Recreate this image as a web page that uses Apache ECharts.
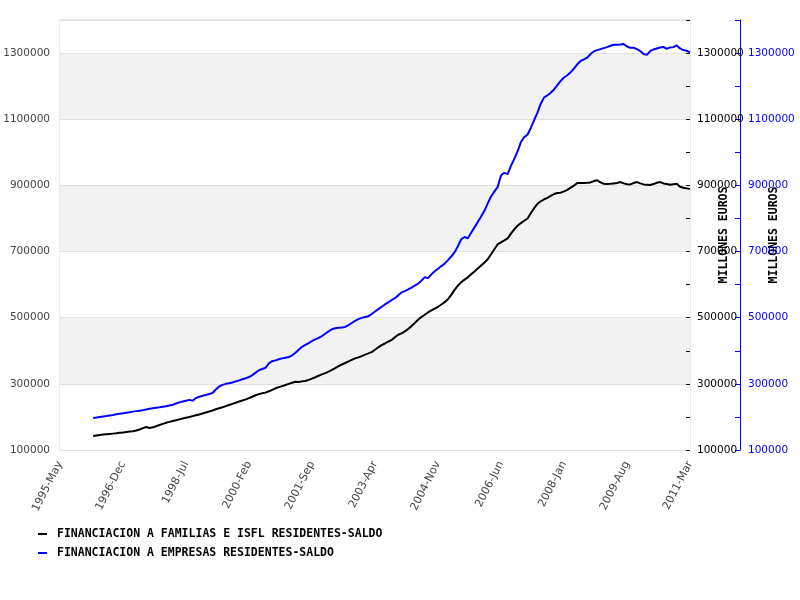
<!DOCTYPE html>
<html><head><meta charset="utf-8">
<script src="https://cdn.jsdelivr.net/npm/echarts@6/dist/echarts.min.js"></script>
<style>html,body{margin:0;padding:0;background:#fff}#c{width:800px;height:600px}</style>
</head><body><div id="c"></div>
<script>
// Category axis: monthly from 1995-May to 2011-Mar
const MONTHS = ['Jan','Feb','Mar','Apr','May','Jun','Jul','Aug','Sep','Oct','Nov','Dec'];
const AXIS_START = [1995, 4];   // 1995-May
const AXIS_END = [2011, 2];     // 2011-Mar
const DATA_START = '1996-Mar';
const categories = [];
for (let y = AXIS_START[0], m = AXIS_START[1]; y < AXIS_END[0] || (y === AXIS_END[0] && m <= AXIS_END[1]); ) {
  categories.push(y + '-' + MONTHS[m]);
  m++; if (m > 11) { m = 0; y++; }
}
const seriesNames = ['FINANCIACION A FAMILIAS E ISFL RESIDENTES-SALDO', 'FINANCIACION A EMPRESAS RESIDENTES-SALDO'];
const familias = [
142300,144000,145500,146500,147500,148500,149500,150500,152000,153000,
154500,156000,157000,159000,162000,166000,169500,166500,168500,172000,
175500,179000,182500,185000,187500,190000,192500,195000,197500,200000,
202500,205000,207500,210500,213500,216500,219500,223000,226000,229000,
232500,236000,239500,243000,246500,249500,253000,257000,261000,265500,
269000,271500,273500,277500,282000,286500,290000,293000,296500,300000,
303500,306500,305500,307500,308500,312000,316000,320000,324500,328500,
332500,337000,342000,347500,353500,358500,363000,368000,372500,377000,
380000,384000,388500,392000,396000,403000,410500,417000,422000,427500,
432500,441000,448500,452500,458500,466000,474500,484000,494000,502000,
509000,516000,522000,527500,533000,540000,547000,556000,569000,584000,
597000,607000,615000,622000,631000,640000,649000,658000,666500,676500,
692000,707000,722000,728000,733500,740000,754000,767000,778000,786000,
793000,800000,816000,831000,844500,852000,858000,862500,868000,874000,
877000,878000,882000,886500,893000,899000,907000,907000,907500,908000,
909000,913000,915500,909000,905000,904500,905000,906000,907000,910000,
906000,903500,903000,907000,910000,906000,903000,902000,901000,904000,
908000,910000,906000,904000,902000,903500,905000,896000,893000,891000,
889000];
const empresas = [
196700,198000,199500,201000,202500,204500,206000,208000,209500,211000,
212500,214000,216000,217500,219000,220500,222500,224500,226000,227500,
229000,231000,232500,234500,237000,240500,244000,246500,249000,251500,
249000,257000,261000,264000,266500,269500,272500,283000,292000,297000,
300000,302000,304000,307500,310500,314000,317000,320500,326000,334000,
341000,345000,348500,362000,368500,371000,374500,377000,379000,381000,
386000,394000,403000,412000,417500,423000,429500,434500,439000,444500,
451500,458500,465000,468000,469500,470500,472000,477500,484000,490500,
495500,499500,502000,504500,511000,518500,526000,533000,540000,546500,
553000,559000,567500,576500,580500,585500,591000,597000,603000,612000,
622500,619500,631000,640500,648000,656000,663500,674000,685000,697500,
716000,737000,744000,740000,757000,773000,789000,806000,823000,845500,
866500,881000,895500,930000,938000,934000,959000,980000,1003000,1031000,
1046000,1053000,1074000,1097000,1120000,1147000,1166000,1172000,1180000,1190000,
1203000,1216000,1226000,1233000,1242000,1253000,1266000,1276000,1281000,1286000,
1297000,1305000,1309000,1312000,1315000,1318000,1322000,1325000,1325500,1326000,
1327500,1320000,1316000,1316000,1312000,1306000,1297000,1294500,1306000,1311000,
1314000,1317000,1318500,1312500,1317000,1318000,1323000,1314000,1309000,1307000,
1302000];
const Y_MIN = 100000, Y_MAX = 1400000;
const axisName = 'MILLONES EUROS';

const off = categories.indexOf(DATA_START);
const pad = arr => categories.map((c, i) => (i < off ? '-' : arr[i - off]));
const labelFilter = v => ((v - Y_MIN) % 200000 === 0 && v < Y_MAX) ? String(v) : '';
const mono = '"DejaVu Sans Mono", monospace';

const chart = echarts.init(document.getElementById('c'));
chart.setOption({
  animation: false,
  grid: { left: 60, right: 110, top: 20, bottom: 150, containLabel: false, outerBoundsMode: 'none',
          show: true, borderColor: '#d8d8d8', borderWidth: 1, backgroundColor: '#fff' },
  legend: {
    orient: 'vertical', left: 38, top: 528, padding: 0, itemGap: 7, itemWidth: 9, itemHeight: 2,
    icon: 'rect',
    textStyle: { fontFamily: mono, fontWeight: 'bold', fontSize: 11.5, color: '#000', padding: [0, 0, 0, 5] },
    data: seriesNames
  },
  xAxis: {
    type: 'category', data: categories, boundaryGap: false,
    axisLine: { show: false }, axisTick: { show: false }, splitLine: { show: false },
    axisLabel: { interval: 18, rotate: 63, margin: 12, fontSize: 11, color: '#444', fontFamily: 'DejaVu Sans' }
  },
  yAxis: [
    {
      type: 'value', position: 'left', min: Y_MIN, max: Y_MAX, interval: 200000,
      axisLine: { show: false }, axisTick: { show: false },
      axisLabel: { fontSize: 10.5, color: '#444', fontFamily: 'DejaVu Sans', margin: 10, showMaxLabel: false, formatter: v => String(v) },
      splitLine: { show: true, lineStyle: { color: '#e0e0e0', width: 1 } },
      splitArea: { show: true, areaStyle: { color: ['#ffffff', '#f2f2f2'] } }
    },
    {
      type: 'value', position: 'right', offset: 0, min: Y_MIN, max: Y_MAX, interval: 100000,
      name: axisName, nameLocation: 'middle', nameRotate: 90, nameGap: 28, nameMoveOverlap: false,
      nameTextStyle: { fontFamily: mono, fontWeight: 'bold', fontSize: 11.5, color: '#000' },
      axisLine: { show: false },
      axisTick: { show: true, inside: true, length: 4, lineStyle: { color: '#000' } },
      axisLabel: { fontSize: 10.5, color: '#000', fontFamily: 'DejaVu Sans', margin: 7, formatter: labelFilter },
      splitLine: { show: false }
    },
    {
      type: 'value', position: 'right', offset: 50, min: Y_MIN, max: Y_MAX, interval: 100000,
      name: axisName, nameLocation: 'middle', nameRotate: 90, nameGap: 28, nameMoveOverlap: false,
      nameTextStyle: { fontFamily: mono, fontWeight: 'bold', fontSize: 11.5, color: '#000' },
      axisLine: { show: true, lineStyle: { color: '#0000ff', width: 1 } },
      axisTick: { show: true, inside: true, length: 5, lineStyle: { color: '#0000ff' } },
      axisLabel: { fontSize: 10.5, color: '#0000ff', fontFamily: 'DejaVu Sans', margin: 8, formatter: labelFilter },
      splitLine: { show: false }
    }
  ],
  series: [
    { name: seriesNames[0], type: 'line', yAxisIndex: 1, data: pad(familias), showSymbol: false,
      lineStyle: { color: '#000', width: 2 }, itemStyle: { color: '#000' } },
    { name: seriesNames[1], type: 'line', yAxisIndex: 2, data: pad(empresas), showSymbol: false,
      lineStyle: { color: '#0000ff', width: 2 }, itemStyle: { color: '#0000ff' } }
  ]
});
</script>
</body></html>
